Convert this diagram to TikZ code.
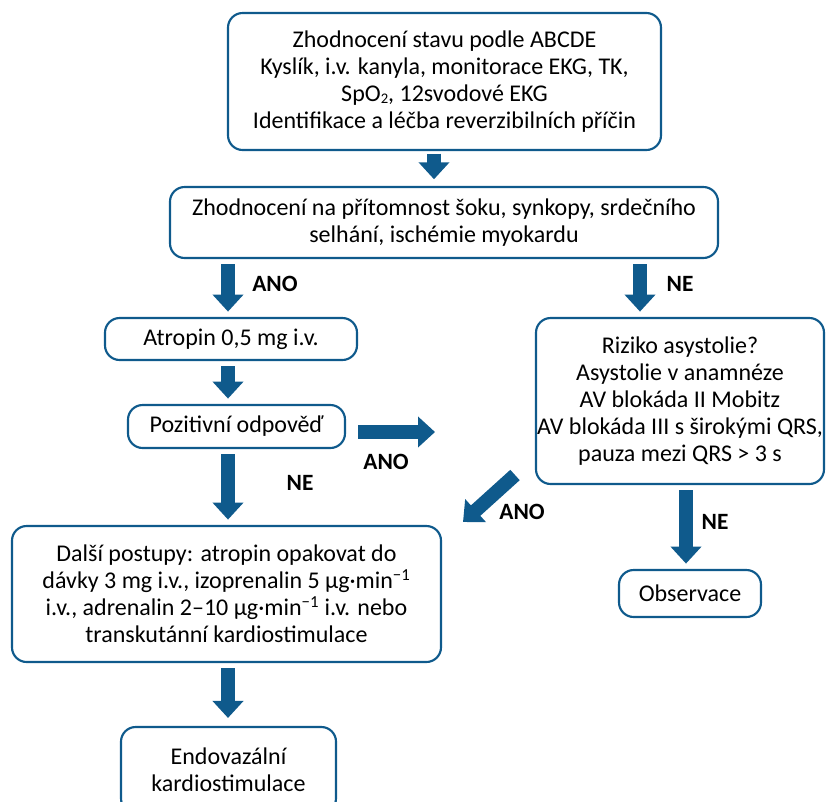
\documentclass[tikz,border=0pt]{standalone}
\usepackage{fontspec}
\setmainfont{Carlito}
\usetikzlibrary{arrows.meta}
\definecolor{flowblue}{HTML}{0F5A8C}
\newcommand{\lowtwo}{{\fontsize{11}{11}\selectfont\raisebox{-1.2pt}{2}}}
\tikzset{
  box/.style={draw=flowblue, line width=1.6pt, rounded corners=11pt, align=center, inner sep=0pt},
  fat/.style={draw=flowblue, line width=10.5pt, -{Triangle[width=22.5pt,length=12.75pt]}},
  lab/.style={font=\fontsize{17.5}{20}\selectfont\bfseries}
}
\begin{document}
\begin{tikzpicture}[x=0.75pt, y=-0.75pt, font=\fontsize{18}{20.3}\selectfont]
        \useasboundingbox (0,0) rectangle (827,801);

        \node[box, minimum width=324.75pt, minimum height=102.75pt] (abcde) at (444.5,81.5)
          {Zhodnocení stavu podle ABCDE\\Kyslík, i.v. kanyla, monitorace EKG, TK,\\SpO\lowtwo, 12svodové EKG\\Identifikace a léčba reverzibilních příčin};
        \node[box, minimum width=411pt, minimum height=53.25pt] (sok) at (444,222.5)
          {Zhodnocení na přítomnost šoku, synkopy, srdečního\\selhání, ischémie myokardu};
        \node[box, minimum width=189pt, minimum height=31.5pt] (atropin) at (231,339)
          {Atropin 0,5 mg i.v.};
        \node[box, minimum width=162.75pt, minimum height=32.25pt] (odpoved) at (236.5,426.5)
          {Pozitivní odpověď};
        \node[box, minimum width=216pt, minimum height=124.5pt] (riziko) at (680,401)
          {Riziko asystolie?\\Asystolie v anamnéze\\AV blokáda II Mobitz\\AV blokáda III s širokými QRS,\\pauza mezi QRS > 3 s};
        \node[box, minimum width=321.75pt, minimum height=102pt] (dalsi) at (226.5,594)
          {Další postupy: atropin opakovat do\\dávky 3 mg i.v., izoprenalin 5 µg·min\textsuperscript{−1}\\i.v., adrenalin 2–10 µg·min\textsuperscript{−1} i.v. nebo\\transkutánní kardiostimulace};
        \node[box, minimum width=106.5pt, minimum height=35.25pt] (observace) at (690,593.5)
          {Observace};
        \node[box, minimum width=161.25pt, minimum height=64.5pt] (endo) at (228.5,770)
          {Endovazální\\kardiostimulace};

        \coordinate (ano1) at (435,432);
        \coordinate (ano2) at (515,475);
        \coordinate (ano3) at (463,522);

        \draw[fat, shorten <=2pt, shorten >=5pt] (abcde.south -| 434,0) -- (sok.north -| 434,0);
        \draw[fat, shorten <=4pt, shorten >=4pt] (sok.south -| 228,0) -- (atropin.north -| 228,0);
        \draw[fat, shorten <=4pt, shorten >=4pt] (sok.south -| 640,0) -- (riziko.north -| 640,0);
        \draw[fat, shorten <=4pt, shorten >=4pt] (atropin.south -| 228,0) -- (odpoved.north -| 228,0);
        \draw[fat, shorten <=4pt, shorten >=4pt] (odpoved.south -| 228,0) -- (dalsi.north -| 228,0);
        \draw[fat, shorten <=9pt] (odpoved.east |- ano1) -- (ano1);
        \draw[fat] (ano2) -- (ano3);
        \draw[fat, shorten <=4pt, shorten >=4pt] (riziko.south -| 686,0) -- (observace.north -| 686,0);
        \draw[fat, shorten <=4pt, shorten >=6pt] (dalsi.south -| 228,0) -- (endo.north -| 228,0);

        \node[lab] (l1) at (275,284) {ANO};
        \node[lab] (l2) at (680,284) {NE};
        \node[lab] (l3) at (300,483) {NE};
        \node[lab] (l4) at (386,462) {ANO};
        \node[lab] (l5) at (522,512) {ANO};
        \node[lab] (l6) at (715,522) {NE};
      \end{tikzpicture}
\end{document}
